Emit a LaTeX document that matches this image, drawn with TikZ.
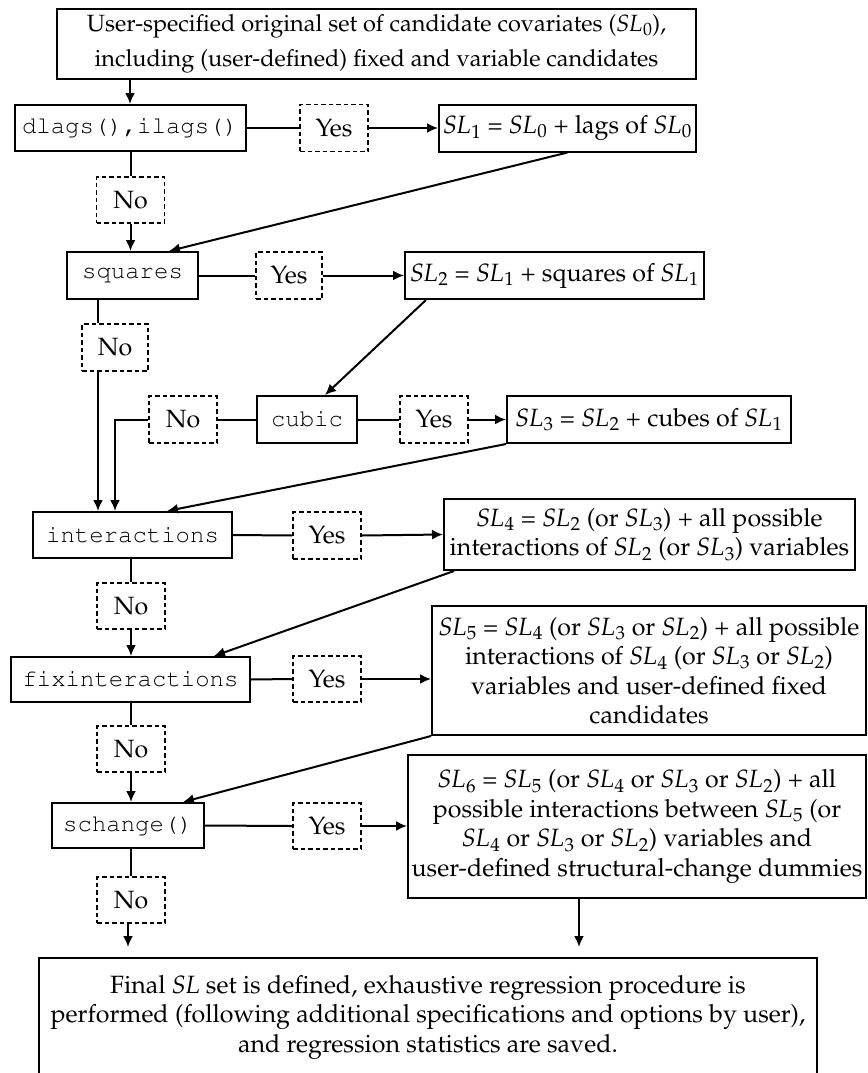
\documentclass[tikz,border=0pt]{standalone}
\usepackage[T1]{fontenc}
\usepackage{mathpazo}
\usepackage{courier}
\usetikzlibrary{arrows.meta}
\newcommand{\SLs}[1]{\textit{SL}\kern0.5pt$_{#1}$}
\begin{document}
\begin{tikzpicture}[x=1pt,y=-1pt,
  txt/.style={font=\fontsize{25}{29.5}\selectfont},
  box/.style={draw, line width=2pt, inner sep=0pt, align=center, txt},
  dbox/.style={draw, line width=1.8pt, dash pattern=on 4.5pt off 3pt, inner sep=0pt, align=center, txt, minimum width=68pt, minimum height=47pt},
  mono/.style={box, font=\fontsize{24}{24}\ttfamily},
  ln/.style={line width=2pt},
  arr/.style={line width=2pt, -{Latex[length=11pt,width=10pt]}}
]
\useasboundingbox (0,0) rectangle (867,1073);
\clip (0,0) rectangle (867,1073);

% nodes
\node[box, minimum width=639pt, minimum height=70pt, font=\fontsize{23.5}{35}\selectfont] (top) at (376.5,44)
  {User-specified original set of candidate covariates (\SLs0),\\including (user-defined) fixed and variable candidates};

\node[mono, minimum width=231pt, minimum height=46pt] (dlags) at (130,128) {dlags(),ilags()};
\node[dbox] (yes1) at (334,128) {Yes};
\node[box, minimum width=257pt, minimum height=47pt] (sl1) at (567.5,128) {\SLs1 = \SLs0 + lags of \SLs0};
\node[dbox, minimum height=46pt] (no1) at (130.5,200) {No};

\node[mono, minimum width=131pt, minimum height=47pt] (squares) at (132.5,275.5) {squares};
\node[dbox, minimum width=66pt] (yes2) at (289,275.5) {Yes};
\node[box, minimum width=299pt, minimum height=47pt] (sl2) at (554.5,275.5) {\SLs2 = \SLs1 + squares of \SLs1};
\node[dbox, minimum width=66pt] (no2) at (115,347.5) {No};

\node[dbox] (no3) at (183,419.5) {No};
\node[mono, minimum width=100pt, minimum height=47pt] (cubic) at (307,419.5) {cubic};
\node[dbox] (yes3) at (434,419.5) {Yes};
\node[box, minimum width=284pt, minimum height=47pt] (sl3) at (649,419.5) {\SLs3 = \SLs2 + cubes of \SLs1};

\node[mono, minimum width=199pt, minimum height=46pt] (inter) at (132.5,535) {interactions};
\node[dbox] (yes4) at (327,535.5) {Yes};
\node[box, minimum width=411pt, minimum height=71pt] (sl4) at (649.5,534.5)
  {\SLs4 = \SLs2 (or \SLs3) + all possible\\interactions of \SLs2 (or \SLs3) variables};
\node[dbox, minimum height=46pt] (no4) at (131,606) {No};

\node[mono, minimum width=239pt, minimum height=45pt] (fix) at (130.5,679.5) {fixinteractions};
\node[dbox, minimum height=46pt] (yes5) at (327,679) {Yes};
\node[box, minimum width=434pt, minimum height=129pt] (sl5) at (649,670.5)
  {\SLs5 = \SLs4 (or \SLs3 or \SLs2) + all possible\\interactions of \SLs4 (or \SLs3 or \SLs2)\\variables and user-defined fixed\\candidates};
\node[dbox, minimum height=46pt] (no5) at (131,749) {No};

\node[mono, minimum width=152pt, minimum height=45pt] (sch) at (128,825.5) {schange()};
\node[dbox, minimum height=46pt] (yes6) at (327,826) {Yes};
\node[box, minimum width=458pt, minimum height=143pt] (sl6) at (637,826.5)
  {\SLs6 = \SLs5 (or \SLs4 or \SLs3 or \SLs2) + all\\possible interactions between \SLs5 (or\\\SLs4 or \SLs3 or \SLs2) variables and\\user-defined structural-change dummies};
\node[dbox, minimum height=46pt] (no6) at (131,900) {No};

\node[box, minimum width=778pt, minimum height=118pt] (final) at (428,1017)
  {Final \textit{SL} set is defined, exhaustive regression procedure is\\performed (following additional specifications and options by user),\\and regression statistics are saved.};

% connectors
\draw[arr] (dlags.north |- top.south) -- (dlags.north);
\draw[ln] (dlags.east) -- (yes1.west);
\draw[arr] (yes1.east) -- (sl1.west);
\draw[ln] (no1.north |- dlags.south) -- (no1.north);
\draw[arr] (no1.south) -- (no1.south |- squares.north);
\draw[arr] (sl1.south) -- ([xshift=36.5pt]squares.north);

\draw[ln] (squares.east) -- (yes2.west);
\draw[arr] (yes2.east) -- (sl2.west);
\coordinate (a2) at ([xshift=-34.5pt]squares.south);
\draw[ln] (a2) -- (a2 |- no2.north);
\draw[arr] (a2 |- no2.south) -- (a2 |- inter.north);
\draw[arr] ([xshift=22pt]sl2.south west) -- ([xshift=18pt]cubic.north);

\draw[ln] (cubic.west) -- (no3.east);
\draw[arr] (no3.west) -| ([xshift=-17.5pt]inter.north);
\draw[ln] (cubic.east) -- (yes3.west);
\draw[arr] (yes3.east) -- (sl3.west);
\draw[arr] (sl3.south west) -- ([xshift=34.5pt]inter.north);

\draw[ln] (inter.east) -- (yes4.west);
\draw[arr] (yes4.east) -- (sl4.west);
\draw[ln] (no4.north |- inter.south) -- (no4.north);
\draw[arr] (no4.south) -- (no4.south |- fix.north);
\draw[arr] ([xshift=11pt]sl4.south west) -- ([xshift=83.5pt]fix.north);

\draw[ln] (fix.east) -- (yes5.west);
\draw[arr] (yes5.east) -- (yes5.east -| sl5.west);
\draw[ln] (no5.north |- fix.south) -- (no5.north);
\draw[arr] (no5.south) -- (no5.south |- sch.north);
\draw[arr] (sl5.south west) -- ([xshift=55pt]sch.north);

\draw[ln] (sch.east) -- (yes6.west);
\draw[arr] (yes6.east) -- (yes6.east -| sl6.west);
\draw[ln] (no6.north |- sch.south) -- (no6.north);
\draw[arr, shorten >=10pt] ([xshift=-3pt]no6.south) -- ([xshift=-3pt]no6.south |- final.north);
\coordinate (b6) at ([xshift=-58pt]sl6.south);
\draw[arr, shorten >=10pt] (b6) -- (b6 |- final.north);
\end{tikzpicture}
\end{document}
